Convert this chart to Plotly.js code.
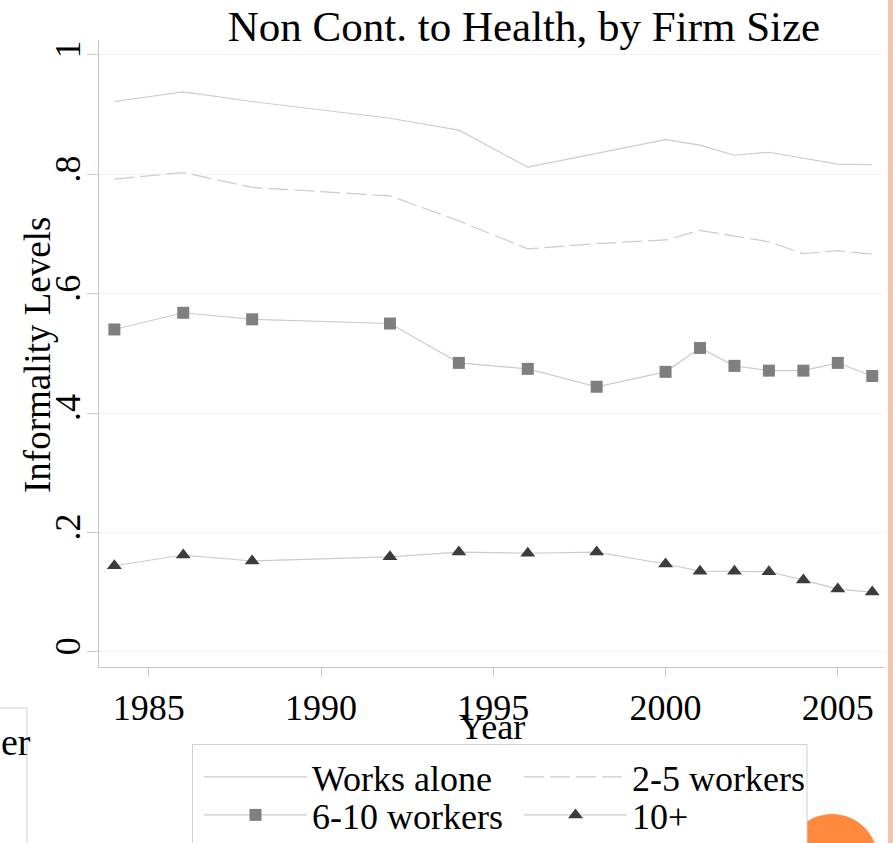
<!DOCTYPE html>
<html>
<head>
<meta charset="utf-8">
<script src="https://cdn.plot.ly/plotly-3.0.1.min.js"></script>
<style>html,body{margin:0;padding:0;background:#fff;}#chart{width:893px;height:843px;}</style>
</head>
<body>
<div id="chart"></div>
<script>
const years = [1984, 1986, 1988, 1992, 1994, 1996, 1998, 2000, 2001, 2002, 2003, 2004, 2005, 2006];
const worksAlone = [0.922, 0.938, 0.922, 0.894, 0.874, 0.812, 0.835, 0.858, 0.849, 0.832, 0.837, 0.827, 0.817, 0.816];
const workers2to5 = [0.792, 0.803, 0.778, 0.764, 0.722, 0.675, 0.684, 0.690, 0.706, 0.696, 0.687, 0.667, 0.672, 0.666];
const workers6to10 = [0.540, 0.568, 0.557, 0.550, 0.484, 0.474, 0.444, 0.469, 0.509, 0.479, 0.471, 0.471, 0.484, 0.462];
const workers10plus = [0.144, 0.162, 0.152, 0.159, 0.167, 0.165, 0.167, 0.147, 0.135, 0.135, 0.134, 0.120, 0.105, 0.100];
const seriesNames = ["Works alone", "2-5 workers", "6-10 workers", "10+"];
const yTickVals = [0, 0.2, 0.4, 0.6, 0.8, 1];
const yTickText = ["0", ".2", ".4", ".6", ".8", "1"];
const xTickVals = [1985, 1990, 1995, 2000, 2005];

const W = 893, H = 843;
const L = 99, R = 8, T = 40, B = 176;
const pw = W - L - R, ph = H - T - B;
const px = v => (v - L) / pw;
const py = v => (H - B - v) / ph;

const font = "Liberation Serif, Times New Roman, serif";
const lineCol = "#cccccc";

const traces = [
  {x: years, y: worksAlone, name: seriesNames[0], mode: "lines", legend: "legend",
   line: {color: lineCol, width: 1.2}},
  {x: years, y: workers2to5, name: seriesNames[1], mode: "lines", legend: "legend",
   line: {color: lineCol, width: 1.2, dash: "20px,6px"}},
  {x: years, y: workers6to10, name: seriesNames[2], mode: "lines+markers", legend: "legend2",
   line: {color: lineCol, width: 1.2},
   marker: {symbol: "square", size: 12, color: "#7f7f7f"}},
  {x: years, y: workers10plus, name: seriesNames[3], mode: "lines+markers", legend: "legend2",
   line: {color: lineCol, width: 1.2},
   marker: {symbol: "triangle-up", size: 13, color: "#3c3c3c"}}
];

const legendBase = {
  orientation: "h", xref: "container", yref: "container",
  x: 199 / W, xanchor: "left", yanchor: "top",
  entrywidth: 202, entrywidthmode: "pixels", itemwidth: 103,
  bgcolor: "rgba(0,0,0,0)", borderwidth: 0, traceorder: "normal",
  font: {family: font, size: 36, color: "#000"}
};

const layout = {
  width: W, height: H,
  margin: {l: L, r: R, t: T, b: B, pad: 0},
  paper_bgcolor: "#ffffff", plot_bgcolor: "#ffffff",
  font: {family: font, size: 36, color: "#000"},
  title: {text: "Non Cont. to Health, by Firm Size", font: {family: font, size: 43, color: "#000"},
          x: 524 / W, xref: "container", xanchor: "center", y: 1 - 26 / H, yref: "container", yanchor: "middle"},
  xaxis: {
    range: [1983.554, 2006.37], tickvals: xTickVals, ticks: "outside", ticklen: 9, tickcolor: "#c8c8c8",
    showline: true, linecolor: "#c8c8c8", linewidth: 1, showgrid: false, zeroline: false,
    tickfont: {family: font, size: 36, color: "#000"},
    title: {text: "Year", font: {family: font, size: 36, color: "#000"}, standoff: 0}
  },
  yaxis: {
    range: [-0.02564, 1.0251], tickvals: yTickVals, ticktext: yTickText, tickangle: -90,
    ticks: "outside", ticklen: 11, tickcolor: "#c8c8c8", ticklabelstandoff: -7,
    showline: true, linecolor: "#c8c8c8", linewidth: 1, showgrid: true, gridcolor: "#f2f2f2", gridwidth: 1,
    zeroline: false,
    tickfont: {family: font, size: 36, color: "#000"}
  },
  showlegend: true,
  legend: Object.assign({}, legendBase, {y: 1 - 747 / H}),
  legend2: Object.assign({}, legendBase, {y: 1 - 785 / H}),
  shapes: [
    {type: "circle", xref: "paper", yref: "paper", x0: px(786), x1: px(878), y0: py(906), y1: py(814),
     fillcolor: "#ff8a3d", line: {width: 0}, layer: "above"},
    {type: "rect", xref: "paper", yref: "paper", x0: px(192.5), x1: px(807), y0: py(900), y1: py(744.5),
     fillcolor: "#ffffff", line: {color: "#d0d0d0", width: 1}, layer: "above"},
    {type: "rect", xref: "paper", yref: "paper", x0: px(-20), x1: px(27), y0: py(900), y1: py(708),
     fillcolor: "rgba(0,0,0,0)", line: {color: "#d0d0d0", width: 1}, layer: "above"},
    {type: "rect", xref: "paper", yref: "paper", x0: px(888), x1: px(900), y0: py(900), y1: py(-10),
     fillcolor: "#f8c3ad", line: {width: 0}, layer: "above"}
  ],
  annotations: [
    {text: "Informality Levels", xref: "paper", yref: "paper", x: px(37), y: py(355), textangle: -90,
     xanchor: "center", yanchor: "middle", showarrow: false, font: {family: font, size: 37, color: "#000"}},
    {text: "er", xref: "paper", yref: "paper", x: px(-1), y: py(742), xanchor: "left", yanchor: "middle",
     showarrow: false, font: {family: font, size: 38, color: "#000"}}
  ]
};

Plotly.newPlot("chart", traces, layout, {displayModeBar: false, staticPlot: true});
</script>
</body>
</html>
